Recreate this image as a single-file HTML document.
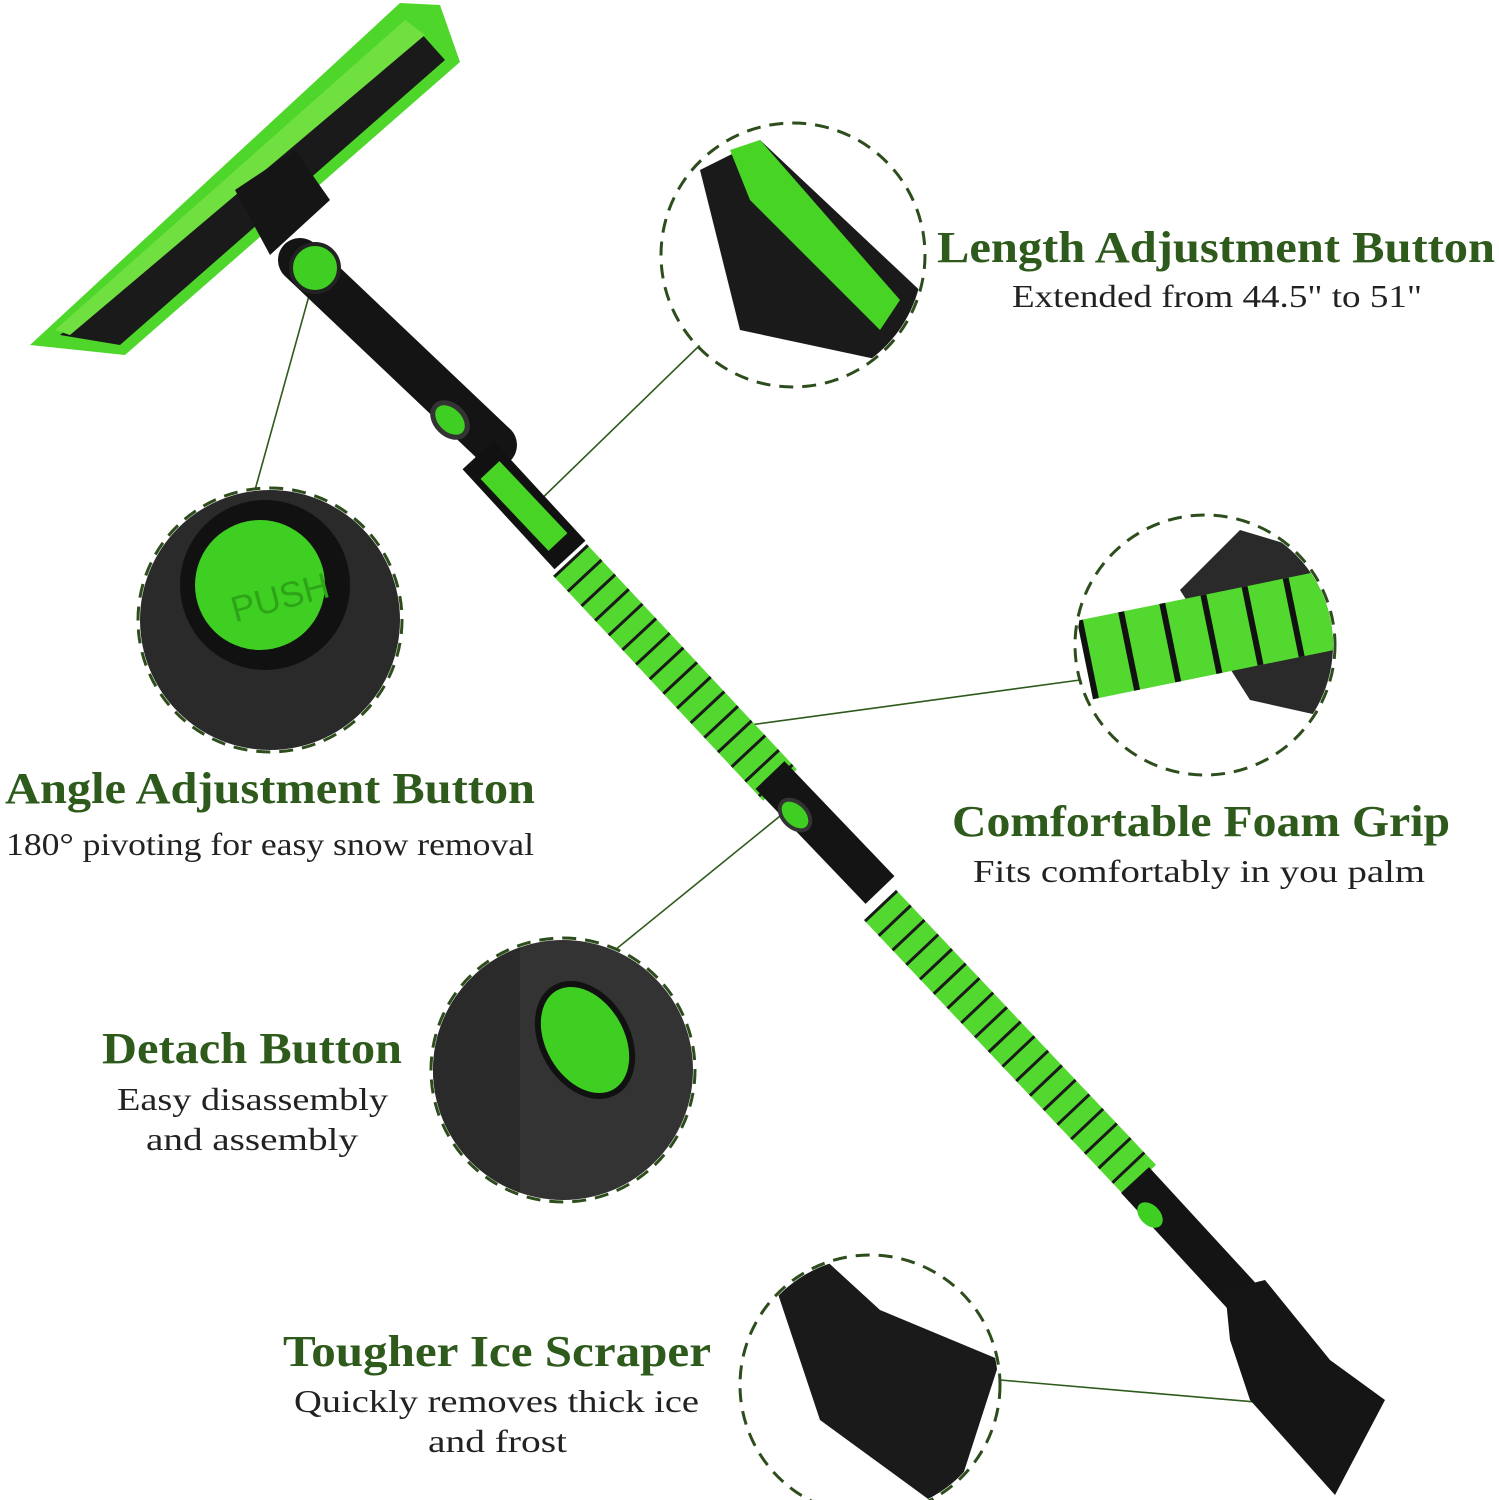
<!DOCTYPE html>
<html><head><meta charset="utf-8"><style>
html,body{margin:0;padding:0;background:#fff}
svg{display:block}
.t{font-family:"Liberation Serif",serif;font-weight:bold;fill:#2e5a1c;font-size:44px}
.s{font-family:"Liberation Serif",serif;fill:#222;font-size:32px}
.c{fill:none;stroke:#2e4d1c;stroke-width:3;stroke-dasharray:14 9}
.l{stroke:#2e5a1c;stroke-width:1.6}
</style></head><body>
<svg width="1499" height="1500" viewBox="0 0 1499 1500">
<defs>
<clipPath id="c1"><circle cx="793" cy="255" r="130"/></clipPath>
<clipPath id="c2"><circle cx="270" cy="620" r="130"/></clipPath>
<clipPath id="c3"><circle cx="1205" cy="645" r="128"/></clipPath>
<clipPath id="c4"><circle cx="563" cy="1070" r="130"/></clipPath>
<clipPath id="c5"><circle cx="870" cy="1385" r="128"/></clipPath>
</defs>
<line class="l" x1="700" y1="345" x2="530" y2="510"/>
<line class="l" x1="255" y1="490" x2="312" y2="285"/>
<line class="l" x1="1080" y1="680" x2="750" y2="725"/>
<line class="l" x1="615" y1="950" x2="785" y2="812"/>
<line class="l" x1="1000" y1="1380" x2="1290" y2="1405"/>
<polygon points="400,3 440,5 460,62 125,355 30,345" fill="#4fd62a"/>
<polygon points="420,32 445,60 120,345 60,335" fill="#1a1a1a"/>
<polygon points="405,20 425,35 70,335 55,330" fill="#6fe040"/>
<polygon points="235,190 295,150 330,200 270,255" fill="#151515"/>
<line x1="300" y1="260" x2="495" y2="445" stroke="#141414" stroke-width="44" stroke-linecap="round"/>
<circle cx="315" cy="268" r="24" fill="#3fcf22" stroke="#222" stroke-width="4"/>
<ellipse cx="450" cy="420" rx="14" ry="20" fill="#3fcf22" stroke="#333" stroke-width="5" transform="rotate(-45 450 420)"/>
<line x1="478" y1="455" x2="570" y2="555" stroke="#111" stroke-width="42"/>
<line x1="490" y1="470" x2="558" y2="542" stroke="#48d425" stroke-width="26"/>
<line x1="570" y1="560" x2="780" y2="785" stroke="#52d82e" stroke-width="46"/>
<line x1="570" y1="560" x2="780" y2="785" stroke="#1a1a1a" stroke-width="46" stroke-dasharray="3 17"/>
<line x1="770" y1="775" x2="880" y2="890" stroke="#141414" stroke-width="40"/>
<ellipse cx="795" cy="815" rx="12" ry="18" fill="#3fcf22" stroke="#333" stroke-width="4" transform="rotate(-45 795 815)"/>
<line x1="880" y1="905" x2="1140" y2="1180" stroke="#52d82e" stroke-width="44"/>
<line x1="880" y1="905" x2="1140" y2="1180" stroke="#1a1a1a" stroke-width="44" stroke-dasharray="3 17"/>
<line x1="1135" y1="1180" x2="1250" y2="1305" stroke="#141414" stroke-width="38"/>
<ellipse cx="1150" cy="1215" rx="10" ry="15" fill="#3fcf22" transform="rotate(-45 1150 1215)"/>
<polygon points="1225,1290 1265,1280 1330,1360 1385,1400 1335,1495 1250,1400 1230,1340" fill="#151515"/>
<g clip-path="url(#c1)"><rect x="660" y="120" width="270" height="270" fill="#fff"/>
<polygon points="700,170 760,140 930,300 880,360 740,330" fill="#1a1a1a"/>
<polygon points="730,150 760,140 900,300 880,330 750,200" fill="#48d425"/></g>
<g clip-path="url(#c2)"><rect x="135" y="485" width="270" height="270" fill="#2a2a2a"/>
<circle cx="265" cy="585" r="85" fill="#111"/>
<circle cx="260" cy="585" r="65" fill="#3fcf22"/>
<text x="230" y="615" font-family="Liberation Sans" font-size="36" fill="#2ea518" transform="rotate(-15 260 600)">PUSH</text></g>
<g clip-path="url(#c3)"><rect x="1070" y="510" width="270" height="270" fill="#fff"/>
<polygon points="1180,590 1240,530 1340,560 1340,720 1250,700" fill="#2a2a2a"/>
<line x1="1085" y1="660" x2="1330" y2="610" stroke="#52d82e" stroke-width="80"/>
<line x1="1085" y1="660" x2="1330" y2="610" stroke="#111" stroke-width="80" stroke-dasharray="6 36"/></g>
<g clip-path="url(#c4)"><rect x="430" y="935" width="270" height="270" fill="#333"/>
<ellipse cx="585" cy="1040" rx="42" ry="60" fill="#3fcf22" stroke="#111" stroke-width="6" transform="rotate(-30 585 1040)"/>
<rect x="430" y="935" width="90" height="270" fill="#2a2a2a"/></g>
<g clip-path="url(#c5)"><rect x="740" y="1255" width="270" height="260" fill="#fff"/>
<polygon points="770,1270 820,1255 880,1310 1000,1360 950,1515 820,1420" fill="#1a1a1a"/></g>
<circle class="c" cx="793" cy="255" r="132"/>
<circle class="c" cx="270" cy="620" r="132"/>
<circle class="c" cx="1205" cy="645" r="130"/>
<circle class="c" cx="563" cy="1070" r="132"/>
<circle class="c" cx="870" cy="1385" r="130"/>
<text class="t" x="937" y="262" textLength="558" lengthAdjust="spacingAndGlyphs">Length Adjustment Button</text>
<text class="s" x="1012" y="307" textLength="410" lengthAdjust="spacingAndGlyphs">Extended from 44.5" to 51"</text>
<text class="t" x="5" y="803" textLength="530" lengthAdjust="spacingAndGlyphs">Angle Adjustment Button</text>
<text class="s" x="6" y="855" textLength="528" lengthAdjust="spacingAndGlyphs">180° pivoting for easy snow removal</text>
<text class="t" x="952" y="836" textLength="498" lengthAdjust="spacingAndGlyphs">Comfortable Foam Grip</text>
<text class="s" x="973" y="882" textLength="452" lengthAdjust="spacingAndGlyphs">Fits comfortably in you palm</text>
<text class="t" x="102" y="1063" textLength="300" lengthAdjust="spacingAndGlyphs">Detach Button</text>
<text class="s" x="117" y="1110" textLength="271" lengthAdjust="spacingAndGlyphs">Easy disassembly</text>
<text class="s" x="146" y="1150" textLength="212" lengthAdjust="spacingAndGlyphs">and assembly</text>
<text class="t" x="283" y="1366" textLength="428" lengthAdjust="spacingAndGlyphs">Tougher Ice Scraper</text>
<text class="s" x="294" y="1412" textLength="405" lengthAdjust="spacingAndGlyphs">Quickly removes thick ice</text>
<text class="s" x="428" y="1452" textLength="139" lengthAdjust="spacingAndGlyphs">and frost</text>
</svg>
</body></html>
